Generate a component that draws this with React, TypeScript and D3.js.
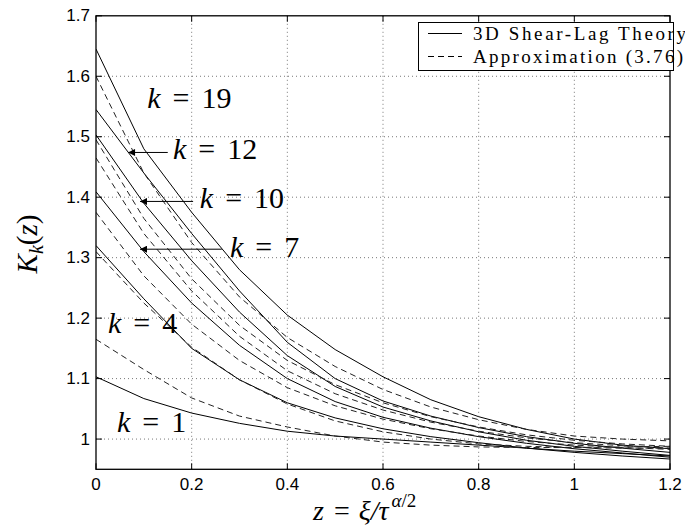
import React from "react";
import * as d3 from "d3";

// z = xi / tau^(alpha/2)
const zValues = [0, 0.1, 0.2, 0.3, 0.4, 0.5, 0.6, 0.7, 0.8, 0.9, 1.0, 1.1, 1.2];

// 3D shear-lag theory (solid)
const shearLagK1 = [1.103, 1.067, 1.043, 1.026, 1.013, 1.005, 1.0, 0.995, 0.99, 0.985, 0.98, 0.976, 0.972];
const shearLagK4 = [1.32, 1.232, 1.15, 1.098, 1.06, 1.035, 1.017, 1.004, 0.994, 0.985, 0.978, 0.972, 0.967];
const shearLagK7 = [1.409, 1.31, 1.225, 1.155, 1.1, 1.062, 1.036, 1.018, 1.004, 0.993, 0.984, 0.977, 0.97];
const shearLagK10 = [1.503, 1.39, 1.295, 1.21, 1.138, 1.087, 1.053, 1.03, 1.012, 0.998, 0.988, 0.98, 0.973];
const shearLagK12 = [1.545, 1.44, 1.34, 1.245, 1.16, 1.1, 1.063, 1.038, 1.019, 1.004, 0.993, 0.985, 0.978];
const shearLagK19 = [1.645, 1.48, 1.375, 1.28, 1.205, 1.148, 1.103, 1.065, 1.037, 1.016, 1.0, 0.99, 0.984];

// approximation (3.76) (dashed)
const approxK1 = [1.165, 1.115, 1.068, 1.038, 1.02, 1.005, 0.995, 0.99, 0.987, 0.986, 0.986, 0.987, 0.988];
const approxK4 = [1.31, 1.225, 1.152, 1.098, 1.058, 1.03, 1.012, 1.0, 0.992, 0.988, 0.986, 0.985, 0.985];
const approxK7 = [1.375, 1.27, 1.19, 1.13, 1.085, 1.055, 1.033, 1.017, 1.005, 0.996, 0.99, 0.986, 0.983];
const approxK10 = [1.465, 1.34, 1.245, 1.17, 1.113, 1.075, 1.048, 1.028, 1.013, 1.002, 0.994, 0.989, 0.985];
const approxK12 = [1.495, 1.365, 1.265, 1.188, 1.13, 1.09, 1.06, 1.037, 1.02, 1.007, 0.998, 0.992, 0.988];
const approxK19 = [1.6, 1.44, 1.325, 1.235, 1.168, 1.12, 1.082, 1.053, 1.032, 1.016, 1.005, 1.0, 0.997];

const solidSeries = [shearLagK1, shearLagK4, shearLagK7, shearLagK10, shearLagK12, shearLagK19];
const dashedSeries = [approxK1, approxK4, approxK7, approxK10, approxK12, approxK19];

const xTicks = [0, 0.2, 0.4, 0.6, 0.8, 1, 1.2];
const yTicks = [1, 1.1, 1.2, 1.3, 1.4, 1.5, 1.6, 1.7];
const legendLabels = ["3D Shear-Lag Theory", "Approximation (3.76)"];

// k labels: text position (z, K) and optional arrow (from z -> to z at K)
const kNotes = [
  { k: "19", z: 0.107, v: 1.548 },
  { k: "12", z: 0.161, v: 1.4633, arrow: [0.15, 0.067, 1.474] },
  { k: "10", z: 0.217, v: 1.382, arrow: [0.203, 0.092, 1.393] },
  { k: "7", z: 0.28, v: 1.301, arrow: [0.263, 0.092, 1.314] },
  { k: "4", z: 0.025, v: 1.176 },
  { k: "1", z: 0.044, v: 1.012 },
];

const W = 685;
const H = 531;
const left = 96;
const right = 670;
const top = 15.8;
const bottom = 469.3;

const x = d3.scaleLinear().domain([0, 1.2]).range([left, right]);
const y = d3.scaleLinear().domain([0.95, 1.7]).range([bottom, top]);

const line = d3
  .line<number>()
  .x((d, i) => x(zValues[i]))
  .y((d) => y(d));

const serif = "'Liberation Serif', 'Times New Roman', serif";
const sans = "'Liberation Sans', Arial, sans-serif";

export default function App() {
  return (
    <svg
      width={W}
      height={H}
      style={{ position: "absolute", left: 0, top: 0, background: "#fff" }}
    >
      <defs>
        <clipPath id="plot">
          <rect x={left} y={top} width={right - left} height={bottom - top} />
        </clipPath>
        <marker id="head" viewBox="0 0 10 10" refX="10" refY="5" markerWidth="9" markerHeight="7" orient="auto" markerUnits="userSpaceOnUse">
          <path d="M0,0 L10,5 L0,10 z" fill="#000" />
        </marker>
      </defs>

      {/* grid */}
      <g stroke="#555" strokeWidth={0.8} strokeDasharray="1,3">
        {xTicks.slice(1, -1).map((t) => (
          <line key={"gx" + t} x1={x(t)} x2={x(t)} y1={top} y2={bottom} />
        ))}
        {yTicks.slice(0, -1).map((t) => (
          <line key={"gy" + t} x1={left} x2={right} y1={y(t)} y2={y(t)} />
        ))}
      </g>

      {/* curves */}
      <g clipPath="url(#plot)" fill="none" stroke="#000" strokeWidth={1}>
        {solidSeries.map((s, i) => (
          <path key={"s" + i} d={line(s) || ""} />
        ))}
        {dashedSeries.map((s, i) => (
          <path key={"d" + i} d={line(s) || ""} strokeDasharray="6,4" stroke="#222" />
        ))}
      </g>

      {/* axes box and ticks */}
      <rect x={left} y={top} width={right - left} height={bottom - top} fill="none" stroke="#000" strokeWidth={1.3} />
      <g stroke="#000" strokeWidth={1}>
        {xTicks.map((t) => (
          <g key={"tx" + t}>
            <line x1={x(t)} x2={x(t)} y1={bottom} y2={bottom - 6} />
            <line x1={x(t)} x2={x(t)} y1={top} y2={top + 6} />
          </g>
        ))}
        {yTicks.map((t) => (
          <g key={"ty" + t}>
            <line x1={left} x2={left + 6} y1={y(t)} y2={y(t)} />
            <line x1={right} x2={right - 6} y1={y(t)} y2={y(t)} />
          </g>
        ))}
      </g>

      {/* tick labels */}
      <g fontFamily={sans} fontSize={17} fill="#000">
        {xTicks.map((t) => (
          <text key={"lx" + t} x={x(t)} y={bottom + 21} textAnchor="middle">
            {d3.format("~g")(t)}
          </text>
        ))}
        {yTicks.map((t) => (
          <text key={"ly" + t} x={left - 6} y={y(t)} textAnchor="end" dominantBaseline="central">
            {d3.format("~g")(t)}
          </text>
        ))}
      </g>

      {/* k annotations */}
      <g fontFamily={serif} fontSize={30} fill="#000">
        {kNotes.map((n) => (
          <g key={"k" + n.k}>
            <text x={x(n.z)} y={y(n.v)}>
              <tspan fontStyle="italic">k</tspan>
              <tspan dx={12}>=</tspan>
              <tspan dx={12}>{n.k}</tspan>
            </text>
            {n.arrow && (
              <line
                x1={x(n.arrow[0])}
                x2={x(n.arrow[1])}
                y1={y(n.arrow[2])}
                y2={y(n.arrow[2])}
                stroke="#000"
                strokeWidth={1}
                markerEnd="url(#head)"
              />
            )}
          </g>
        ))}
      </g>

      {/* legend */}
      <g>
        <rect x={418.5} y={22.5} width={255} height={48} fill="#fff" stroke="#000" strokeWidth={1} />
        <line x1={428} x2={462} y1={33.5} y2={33.5} stroke="#000" strokeWidth={1} />
        <line x1={428} x2={462} y1={56.5} y2={56.5} stroke="#000" strokeWidth={1} strokeDasharray="6,4" />
        <g fontFamily={serif} fontSize={19} fill="#000">
          <text x={473} y={40} textLength={213} lengthAdjust="spacing">{legendLabels[0]}</text>
          <text x={473} y={63} textLength={210} lengthAdjust="spacing">{legendLabels[1]}</text>
        </g>
      </g>

      {/* axis labels */}
      <text transform="translate(37,244) rotate(-90)" textAnchor="middle" fontFamily={serif} fontSize={29}>
        <tspan fontStyle="italic">K</tspan>
        <tspan fontStyle="italic" fontSize={20} dy={6}>k</tspan>
        <tspan dy={-6}>(</tspan>
        <tspan fontStyle="italic">z</tspan>
        <tspan>)</tspan>
      </text>
      <text x={313} y={520} fontFamily={serif} fontSize={28}>
        <tspan fontStyle="italic">z</tspan>
        <tspan dx={10}>=</tspan>
        <tspan dx={9} fontStyle="italic">ξ/τ</tspan>
        <tspan fontSize={19} dy={-13} dx={3}>
          <tspan fontStyle="italic">α</tspan>/2
        </tspan>
      </text>
    </svg>
  );
}
